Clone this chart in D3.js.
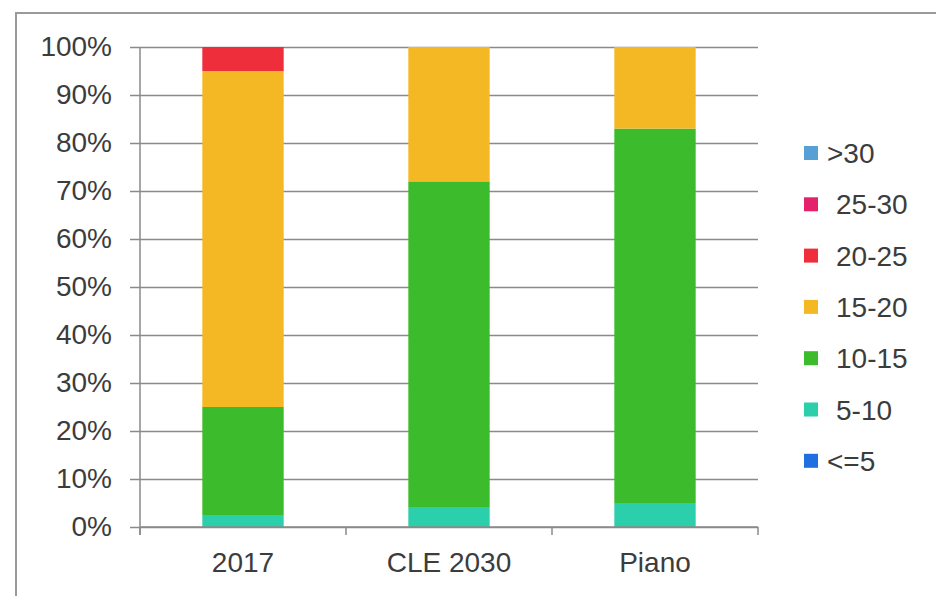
<!DOCTYPE html>
<html><head><meta charset="utf-8">
<script src="https://cdn.jsdelivr.net/npm/d3@7"></script>
<style>
html,body{margin:0;padding:0;background:#fff;}
text{font-family:"Liberation Sans",Arial,sans-serif;fill:#3c3c3c;}
</style></head>
<body>
<svg id="chart" width="936" height="596"></svg>
<script>
const categories = ["2017", "CLE 2030", "Piano"];
const seriesNames = ["<=5", "5-10", "10-15", "15-20", "20-25", "25-30", ">30"];
const seriesColors = ["#1f6fe0", "#2ccfab", "#3cbc2c", "#f3b824", "#ef2e3c", "#e4226c", "#57a0d6"];
const valLe5   = [0, 0, 0];
const val5_10  = [2.5, 4, 5];
const val10_15 = [22.5, 68, 78];
const val15_20 = [70, 28, 17];
const val20_25 = [5, 0, 0];
const val25_30 = [0, 0, 0];
const valGt30  = [0, 0, 0];
const yTicks = [0, 10, 20, 30, 40, 50, 60, 70, 80, 90, 100];

const seriesValues = [valLe5, val5_10, val10_15, val15_20, val20_25, val25_30, valGt30];
const rows = categories.map((c, i) => {
  const r = {cat: c};
  seriesNames.forEach((s, j) => r[s] = seriesValues[j][i]);
  return r;
});

const svg = d3.select("#chart");
const pLeft = 140, pRight = 758, pTop = 47, pBottom = 527;

// outer frame (top and left edges visible)
svg.append("path").attr("d", `M16,596 V13 H936`).attr("fill", "none")
  .attr("stroke", "#9a9a9a").attr("stroke-width", 2);

const x = d3.scaleBand().domain(categories).range([pLeft, pRight]).padding(0);
const y = d3.scaleLinear().domain([0, 100]).range([pBottom, pTop]);

// gridlines + y axis
const yAxis = svg.append("g").attr("transform", `translate(${pLeft},0)`)
  .call(d3.axisLeft(y).tickValues(yTicks).tickFormat(d => d + "%").tickSize(10).tickPadding(18));
yAxis.select(".domain").attr("stroke", "#8a8a8a").attr("stroke-width", 1.5)
  .attr("d", `M0,${pTop}V${pBottom + 8}`);
yAxis.selectAll(".tick line").attr("stroke", "#8a8a8a").attr("stroke-width", 1.5)
  .attr("x1", -10).attr("x2", pRight - pLeft);
yAxis.selectAll(".tick text").attr("font-size", 28).attr("fill", "#3c3c3c")
  .attr("font-family", "Liberation Sans, Arial, sans-serif");

// x axis ticks at category boundaries
const boundaries = categories.map(c => x(c)).concat([x(categories[categories.length - 1]) + x.bandwidth()]);
svg.append("g").selectAll("line").data(boundaries).join("line")
  .attr("x1", d => d).attr("x2", d => d).attr("y1", pBottom).attr("y2", pBottom + 8)
  .attr("stroke", "#8a8a8a").attr("stroke-width", 1.5);
svg.append("g").selectAll("text").data(categories).join("text")
  .attr("x", d => x(d) + x.bandwidth() / 2).attr("y", 572)
  .attr("text-anchor", "middle").attr("font-size", 28).text(d => d);

// stacked bars
const stack = d3.stack().keys(seriesNames)(rows);
const barW = x.bandwidth() * 0.395;
svg.append("g").selectAll("g").data(stack).join("g")
  .attr("fill", (d, i) => seriesColors[i])
  .selectAll("rect").data(d => d).join("rect")
  .attr("x", d => x(d.data.cat) + x.bandwidth() / 2 - barW / 2)
  .attr("width", barW)
  .attr("y", d => y(d[1]))
  .attr("height", d => y(d[0]) - y(d[1]));

// redraw baseline over bars
svg.append("line").attr("x1", pLeft).attr("x2", pRight).attr("y1", pBottom).attr("y2", pBottom)
  .attr("stroke", "#8a8a8a").attr("stroke-width", 1.5);

// legend
const legendOrder = seriesNames.map((s, i) => i).reverse();
const lg = svg.append("g");
legendOrder.forEach((si, k) => {
  const cy = 153 + k * 51.3;
  lg.append("rect").attr("x", 804).attr("y", cy - 7).attr("width", 14).attr("height", 14)
    .attr("fill", seriesColors[si]);
  const name = seriesNames[si];
  const shift = (name.startsWith(">") || name.startsWith("<")) ? 0 : 9;
  lg.append("text").attr("x", 827 + shift).attr("y", cy + 10)
    .attr("font-size", 28).text(name);
});
</script>
</body></html>
